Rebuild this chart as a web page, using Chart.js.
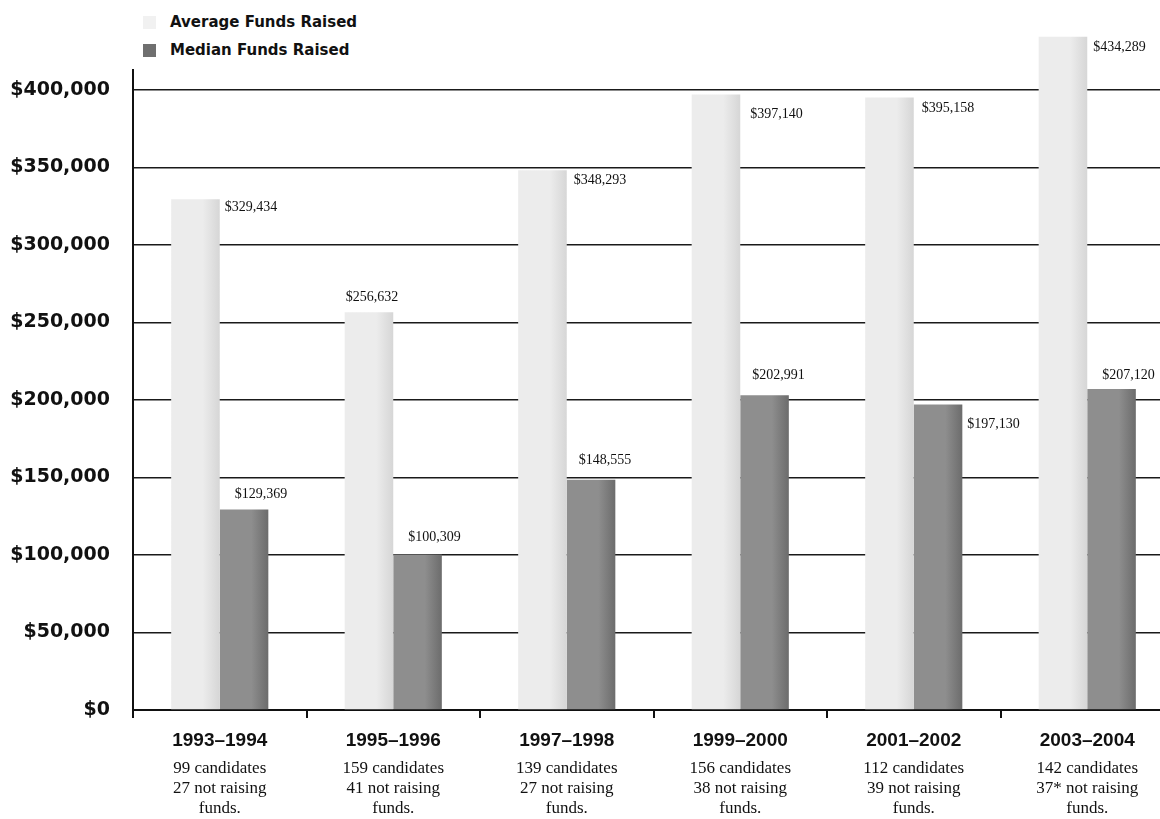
<!DOCTYPE html>
<html>
<head>
<meta charset="utf-8">
<script src="https://cdn.jsdelivr.net/npm/chart.js@4"></script>
<style>
body{margin:0;overflow:hidden;background:#fff;}
#legend{position:absolute;left:143px;top:8px;font:bold 15px "DejaVu Sans",sans-serif;color:#111;}
#legend div{height:28px;line-height:22px;display:flex;align-items:center;}
#legend span.sw{display:inline-block;width:13px;height:13px;margin-right:14px;}
#chartBox{position:absolute;left:0;top:0;}
</style>
</head>
<body>

<div id="legend">
<div><span class="sw" style="background:#f1f1f1"></span>Average Funds Raised</div>
<div><span class="sw" style="background:#6f6f6f"></span>Median Funds Raised</div>
</div>

<div id="chartBox"><canvas id="fundsChart" width="1174" height="819"></canvas></div>

<script>

const categories = ["1993–1994","1995–1996","1997–1998","1999–2000","2001–2002","2003–2004"];
const candidates = [99,159,139,156,112,142];
const notRaising = ["27","41","27","38","39","37*"];

const averageFunds = [329434,256632,348293,397140,395158,434289];
const medianFunds = [129369,100309,148555,202991,197130,207120];

const yTicks = [0,50000,100000,150000,200000,250000,300000,350000,400000];

const GROUP = 0.56;

function money(v){
return "$" + v.toLocaleString("en-US");
}

const notes = categories.map((c,i) => [
candidates[i] + " candidates",
notRaising[i] + " not raising",
"funds."
]);

// light-to-dark shading across each bar, like the printed fill
function barShade(light, dark, side){
return (c) => {
const xs = c.chart.scales.x;
if(!xs || c.dataIndex === undefined) return light;
const center = xs.getPixelForValue(c.dataIndex);
const w = xs.width / categories.length * GROUP / 2;
if(!isFinite(center) || !isFinite(w) || w <= 0) return light;
const left = side === 0 ? center - w : center;
const g = c.chart.ctx.createLinearGradient(left, 0, left + w, 0);
g.addColorStop(0, light);
g.addColorStop(0.65, light);
g.addColorStop(1, dark);
return g;
};
}

// value labels, placed next to or above each bar
const barLabels = {
id:"barLabels",
afterDatasetsDraw(chart, args, opts){
const ctx = chart.ctx;
ctx.save();
ctx.font = '14px "Liberation Serif", serif';
ctx.fillStyle = "#111";
ctx.textBaseline = "middle";
chart.data.datasets.forEach((ds, di) => {
const meta = chart.getDatasetMeta(di);
meta.data.forEach((bar, i) => {
const spot = opts.spots[di][i];
const text = money(ds.data[i]);
if(spot[0] === "right"){
ctx.textAlign = "left";
ctx.fillText(text, bar.x + bar.width / 2 + spot[1], bar.y + spot[2]);
} else {
ctx.textAlign = "center";
ctx.fillText(text, bar.x + spot[1], bar.y + spot[2]);
}
});
});
ctx.restore();
}
};

new Chart(document.getElementById("fundsChart"), {
type:"bar",
data:{
labels:categories,
datasets:[
{
label:"Average Funds Raised",
data:averageFunds,
backgroundColor:barShade("#ececec","#d6d6d6",0),
categoryPercentage:GROUP,
barPercentage:1,
clip:false
},
{
label:"Median Funds Raised",
data:medianFunds,
backgroundColor:barShade("#8e8e8e","#6c6c6c",1),
categoryPercentage:GROUP,
barPercentage:1,
clip:false
}
]
},
options:{
responsive:false,
devicePixelRatio:1,
animation:false,
layout:{padding:{top:70,left:0,right:0,bottom:0}},
plugins:{
legend:{display:false},
tooltip:{enabled:false},
barLabels:{
spots:[
[["right",5,8],["top",3,-15],["right",7,10],["right",10,20],["right",8,11],["right",6,10]],
[["top",17,-15],["top",17,-17],["top",14,-19],["top",14,-20],["right",5,20],["top",17,-14]]
]
}
},
scales:{
y:{
min:0,
max:412900,
afterBuildTicks:(scale) => {
scale.ticks = yTicks.map(v => ({value:v}));
},
afterFit:(scale) => { scale.width = 133; },
grid:{color:"#1a1a1a",lineWidth:1.6,drawTicks:false},
border:{color:"#111",width:2},
ticks:{
padding:23,
color:"#111",
font:{family:"DejaVu Sans",weight:"bold",size:19},
callback:(v) => money(v)
}
},
x:{
weight:0,
afterFit:(scale) => { scale.height = 40; },
grid:{display:true,drawOnChartArea:false,drawTicks:true,tickLength:8,color:"#111",lineWidth:2},
border:{color:"#111",width:2},
ticks:{
padding:11,
color:"#111",
font:{family:"Liberation Sans",weight:"bold",size:19}
}
},
x2:{
type:"category",
position:"bottom",
weight:1,
labels:notes,
offset:true,
afterFit:(scale) => { scale.height = 69; },
grid:{display:false},
border:{display:false},
ticks:{
padding:0,
color:"#111",
font:{family:"Liberation Serif",size:17,lineHeight:1.2}
}
}
}
},
plugins:[barLabels]
});

</script>
</body>
</html>
